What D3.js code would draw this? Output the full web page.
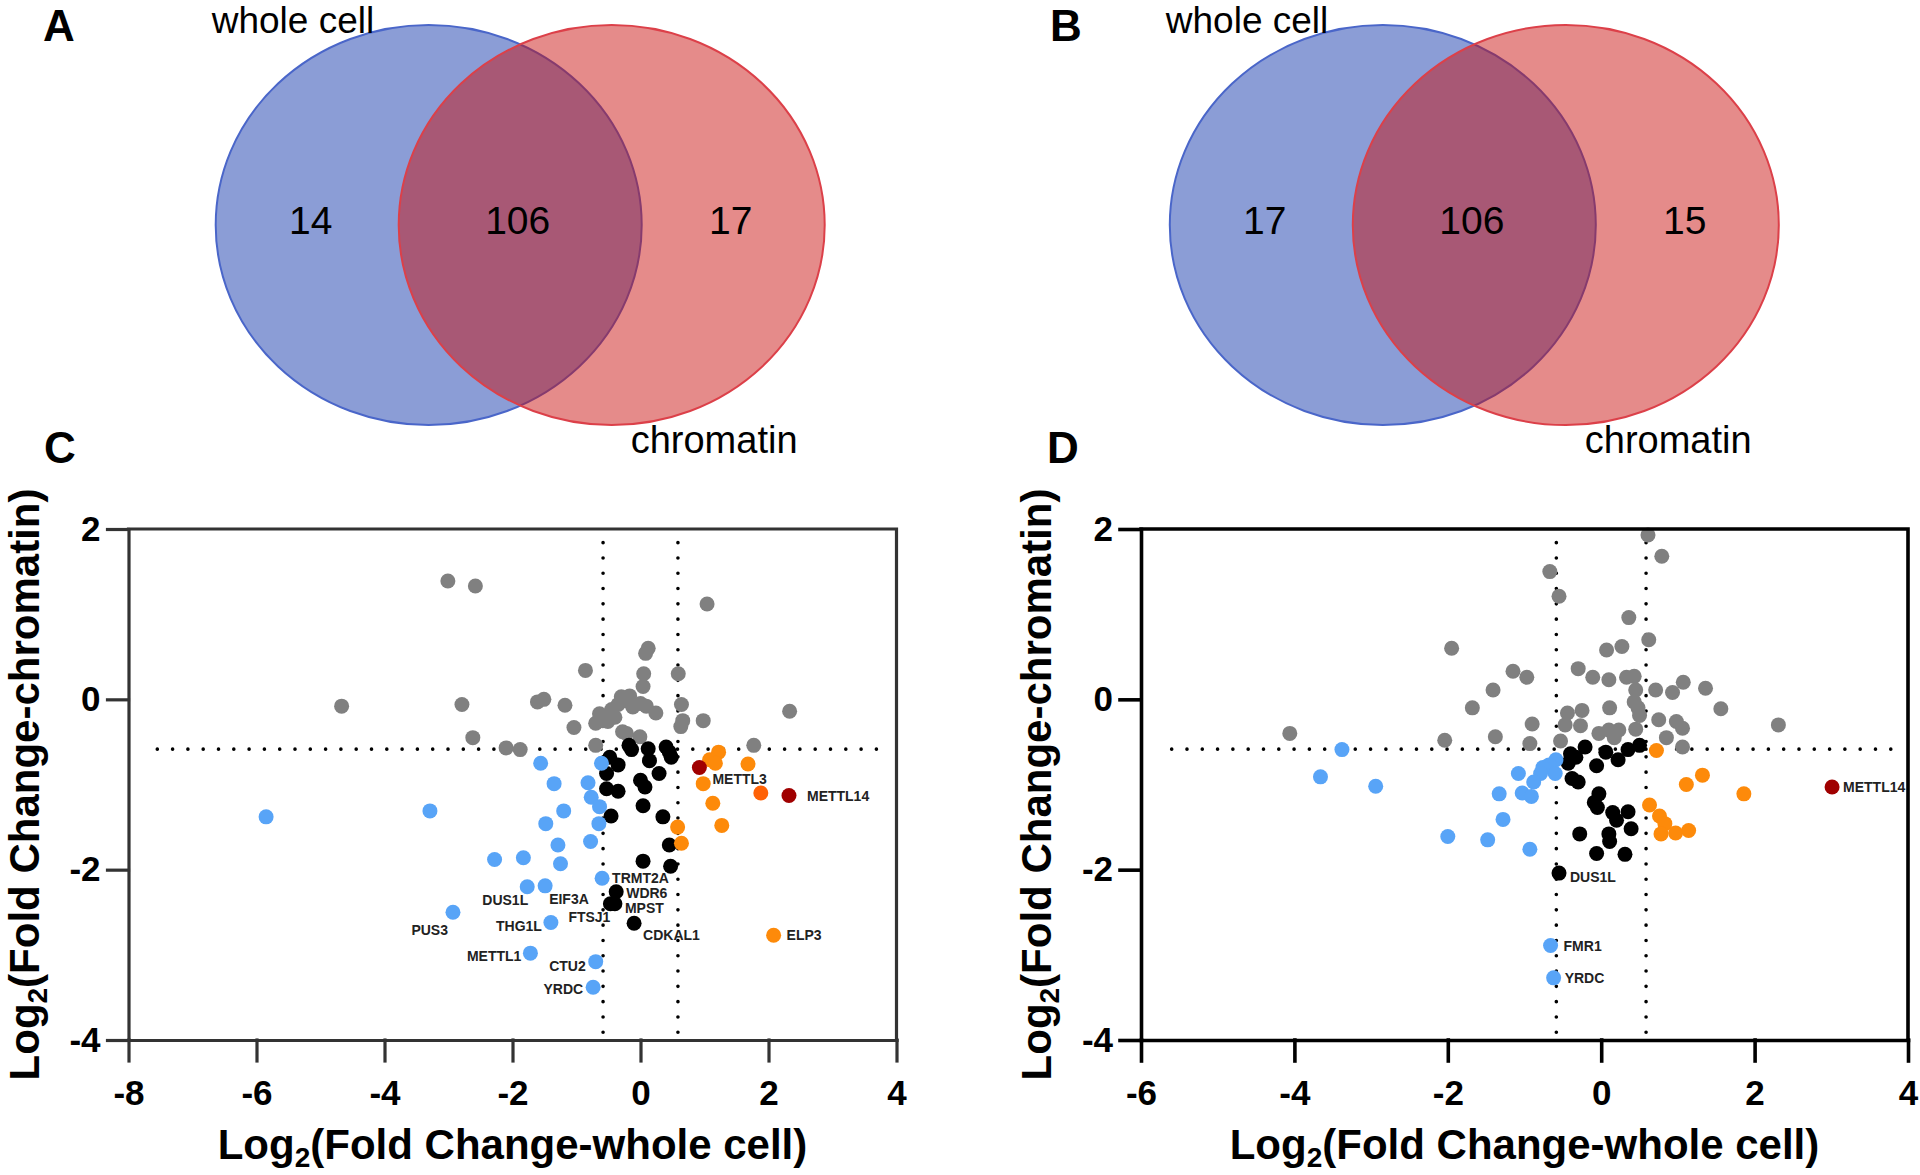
<!DOCTYPE html>
<html>
<head>
<meta charset="utf-8">
<script src="https://cdn.jsdelivr.net/npm/d3@7"></script>
<style>
  body { margin: 0; background: #fff; }
  svg { display: block; }
</style>
</head>
<body>
<script>
var W = 1920, H = 1175;
var FONT = "'Liberation Sans', Arial, Helvetica, sans-serif";

// venn counts: [whole cell only, both, chromatin only]
var setNames = ["whole cell", "chromatin"];
var vennA = [14, 106, 17];
var vennB = [17, 106, 15];

// tick values
var cXTicks = [-8, -6, -4, -2, 0, 2, 4];
var dXTicks = [-6, -4, -2, 0, 2, 4];
var yTicks = [-4, -2, 0, 2];
var cut = Math.log2(1.5);

// panel C points [log2 FC whole cell, log2 FC chromatin, label]
var cGray = [[-3.01,1.39],[-2.58,1.33],[1.04,1.12],[0.12,0.60],[0.08,0.54],[-0.86,0.34],[0.05,0.30],[0.59,0.30],
  [0.04,0.15],[-4.67,-0.08],[-2.79,-0.06],[-1.61,-0.03],[-1.51,0.00],[-1.18,-0.07],[2.33,-0.14],[-0.30,0.03],
  [-0.17,0.04],[-0.35,-0.06],[-0.12,-0.09],[0.09,-0.08],[0.24,-0.16],[0.64,-0.06],[0.66,-0.25],[0.63,-0.32],
  [0.98,-0.25],[-1.04,-0.33],[-0.64,-0.17],[-0.70,-0.28],[-0.59,-0.25],[-0.51,-0.26],[-0.40,-0.21],[-2.62,-0.45],
  [-2.10,-0.57],[-1.88,-0.59],[-0.70,-0.54],[1.77,-0.54],[-0.28,-0.38],[-0.01,-0.44],[-0.22,-0.02],[0.00,-0.05],
  [-0.45,-0.12],[-0.22,-0.40]];
var cBlack = [[-0.18,-0.54],[-0.14,-0.59],[0.12,-0.58],[0.40,-0.56],[0.48,-0.68],[0.45,-0.62],[-0.48,-0.68],[-0.35,-0.77],
  [0.14,-0.72],[-0.53,-0.87],[0.00,-0.95],[0.07,-1.03],[0.29,-0.87],[-0.53,-1.05],[-0.35,-1.08],[0.04,-1.25],
  [-0.46,-1.37],[0.35,-1.38],[0.45,-1.71],[0.04,-1.90],[0.47,-1.96],
  [-0.38,-2.26,"WDR6"],[-0.47,-2.40,"FTSJ1"],[-0.40,-2.40,"MPST"],[-0.10,-2.63,"CDKAL1"]];
var cBlue = [[-1.56,-0.75],[-0.61,-0.75],[-1.35,-0.99],[-0.82,-0.98],[-0.77,-1.15],[-0.64,-1.26],[-3.29,-1.31],
  [-1.20,-1.31],[-0.65,-1.46],[-1.48,-1.46],[-0.78,-1.67],[-1.29,-1.71],[-2.28,-1.88],[-1.83,-1.86],[-1.25,-1.93],
  [-5.85,-1.38],[-0.60,-2.10,"TRMT2A"],[-1.77,-2.20,"DUS1L"],[-1.49,-2.19,"EIF3A"],[-2.93,-2.50,"PUS3"],
  [-1.40,-2.62,"THG1L"],[-1.72,-2.98,"METTL1"],[-0.70,-3.08,"CTU2"],[-0.74,-3.38,"YRDC"]];
var cOrange = [[1.22,-0.62],[1.08,-0.71],[1.17,-0.75],[1.68,-0.76],[0.98,-0.99],[1.13,-1.22],[1.27,-1.48],
  [0.58,-1.50],[0.64,-1.69],[2.08,-2.77,"ELP3"]];
var cOrangeRed = [[1.88,-1.10]];
var cDarkRed = [[0.92,-0.80,"METTL3"],[2.32,-1.13,"METTL14"]];

// panel D points
var dGray = [[0.61,1.93],[0.79,1.68],[-0.67,1.50],[-0.55,1.21],[0.36,0.96],[0.62,0.70],[-1.95,0.60],[0.07,0.58],
  [0.27,0.62],[-1.15,0.33],[-0.97,0.26],[-0.30,0.36],[-0.11,0.26],[0.10,0.23],[0.33,0.26],[0.43,0.27],[-1.41,0.11],
  [0.45,0.11],[0.71,0.11],[0.93,0.08],[1.07,0.20],[1.36,0.13],[-1.68,-0.10],[1.56,-0.11],[0.43,-0.03],[0.48,-0.10],
  [0.11,-0.10],[0.50,-0.19],[-0.44,-0.16],[-0.25,-0.13],[-0.27,-0.31],[-0.90,-0.29],[0.75,-0.24],[0.98,-0.26],
  [1.06,-0.34],[2.31,-0.30],[-2.04,-0.48],[-1.38,-0.44],[-0.93,-0.52],[-0.53,-0.49],[-0.03,-0.40],[0.10,-0.36],
  [0.23,-0.36],[0.85,-0.45],[1.06,-0.56],[-4.06,-0.40],[-0.47,-0.30],[0.45,-0.35],[0.17,-0.45]];
var dBlue = [[-3.38,-0.59],[-3.66,-0.91],[-2.94,-1.02],[-0.59,-0.71],[-0.68,-0.77],[-0.76,-0.80],[-0.60,-0.87],
  [-1.08,-0.87],[-0.79,-0.87],[-0.88,-0.97],[-1.03,-1.10],[-0.91,-1.14],[-1.33,-1.11],[-1.28,-1.41],[-2.00,-1.61],
  [-1.48,-1.65],[-0.93,-1.76],[-0.66,-2.89,"FMR1"],[-0.62,-3.27,"YRDC"]];
var dBlack = [[-0.40,-0.64],[-0.21,-0.56],[-0.43,-0.75],[-0.33,-0.68],[-0.06,-0.78],[0.06,-0.62],[0.22,-0.71],
  [0.35,-0.59],[0.50,-0.54],[-0.38,-0.93],[-0.30,-0.97],[-0.03,-1.11],[-0.09,-1.21],[-0.05,-1.27],[0.15,-1.33],
  [0.35,-1.32],[0.20,-1.42],[0.39,-1.52],[-0.28,-1.58],[0.10,-1.58],[0.11,-1.67],[-0.06,-1.81],[0.31,-1.82],
  [-0.55,-2.04,"DUS1L"]];
var dOrange = [[0.72,-0.60],[1.32,-0.89],[1.11,-1.00],[1.86,-1.11],[0.63,-1.24],[0.76,-1.37],[0.83,-1.46],
  [0.78,-1.58],[0.97,-1.57],[1.14,-1.54]];
var dDarkRed = [[3.01,-1.03,"METTL14"]];

var colors = {gray: "#808080", black: "#000000", blue: "#58a4f7", orange: "#fd8a0a", orangeRed: "#ff6206", darkRed: "#a00000"};

// label offsets [dx, dy, anchor]
var cLabelPos = {
  "METTL3": [13, 17, "start"], "METTL14": [18, 5, "start"], "ELP3": [13, 5, "start"],
  "CDKAL1": [9, 17, "start"], "MPST": [10, 9, "start"], "WDR6": [10, 6, "start"], "TRMT2A": [10, 5, "start"],
  "FTSJ1": [0, 18, "end"], "EIF3A": [4, 18, "start"], "DUS1L": [1, 18, "end"], "PUS3": [-5, 23, "end"],
  "THG1L": [-9, 9, "end"], "METTL1": [-9, 8, "end"], "CTU2": [-10, 9, "end"], "YRDC": [-10, 7, "end"]
};
var dLabelPos = {
  "DUS1L": [11, 9, "start"], "FMR1": [13, 6, "start"], "YRDC": [11, 5, "start"], "METTL14": [11, 5, "start"]
};

var svg = d3.select("body").append("svg")
  .attr("width", W)
  .attr("height", H)
  .style("font-family", FONT);

svg.append("rect").attr("width", W).attr("height", H).attr("fill", "#fff");

// panel letters
[["A", 43, 41], ["B", 1050, 41], ["C", 44, 463], ["D", 1047, 463]].forEach(function(p) {
  svg.append("text")
    .attr("x", p[1]).attr("y", p[2])
    .attr("font-size", 44).attr("font-weight", "bold")
    .text(p[0]);
});

function drawVenn(counts, blueCx) {
  var cy = 225, rx = 213, ry = 200, gap = 183;
  var g = svg.append("g");
  g.append("ellipse")
    .attr("cx", blueCx).attr("cy", cy).attr("rx", rx).attr("ry", ry)
    .attr("fill", "#3e5cbb").attr("fill-opacity", 0.6)
    .attr("stroke", "#4a66c9").attr("stroke-width", 2);
  g.append("ellipse")
    .attr("cx", blueCx + gap).attr("cy", cy).attr("rx", rx).attr("ry", ry)
    .attr("fill", "#c80d0b").attr("fill-opacity", 0.48)
    .attr("stroke", "#dc4049").attr("stroke-width", 2);

  var nx = [blueCx - 118, blueCx + 89, blueCx + 302];
  g.selectAll("text.count")
    .data(counts)
    .enter()
    .append("text")
    .attr("class", "count")
    .attr("x", function(d, i) { return nx[i]; })
    .attr("y", 234)
    .attr("text-anchor", "middle")
    .attr("font-size", 39)
    .text(function(d) { return d; });

  g.append("text").attr("x", blueCx - 217).attr("y", 33).attr("font-size", 37).text(setNames[0]);
  g.append("text").attr("x", blueCx + 202).attr("y", 453).attr("font-size", 38).text(setNames[1]);
}

drawVenn(vennA, 428.7);
drawVenn(vennB, 1382.8);

function drawScatter(opt) {
  var x = d3.scaleLinear().domain(opt.xDomain).range(opt.xRange);
  var y = d3.scaleLinear().domain([-4, 2]).range([1040, 529]);
  var g = svg.append("g");
  var tickLen = 21;
  var fmt = function(d) { return String(d); };

  // dotted threshold lines
  var dots = g.append("g")
    .attr("stroke", "#000")
    .attr("stroke-width", 3.6)
    .attr("stroke-linecap", "round")
    .attr("stroke-dasharray", "0 15.3");
  dots.append("line")
    .attr("x1", x(opt.hFrom)).attr("x2", x(3.85))
    .attr("y1", y(-cut)).attr("y2", y(-cut));
  [-cut, cut].forEach(function(v) {
    dots.append("line")
      .attr("x1", x(v)).attr("x2", x(v))
      .attr("y1", y(1.84)).attr("y2", y(-4));
  });

  // points
  opt.groups.forEach(function(grp) {
    g.append("g").selectAll("circle")
      .data(grp.data)
      .enter()
      .append("circle")
      .attr("cx", function(d) { return x(d[0]); })
      .attr("cy", function(d) { return y(d[1]); })
      .attr("r", 7.5)
      .attr("fill", grp.color);
  });

  // point labels
  var labeled = [];
  opt.groups.forEach(function(grp) {
    grp.data.forEach(function(d) { if (d[2]) labeled.push(d); });
  });
  g.append("g").selectAll("text")
    .data(labeled)
    .enter()
    .append("text")
    .attr("x", function(d) { return x(d[0]) + opt.labelPos[d[2]][0]; })
    .attr("y", function(d) { return y(d[1]) + opt.labelPos[d[2]][1]; })
    .attr("text-anchor", function(d) { return opt.labelPos[d[2]][2]; })
    .attr("font-size", 14)
    .attr("font-weight", "bold")
    .attr("fill", "#222")
    .text(function(d) { return d[2]; });

  // frame (top and right)
  g.append("path")
    .attr("d", "M" + opt.xRange[0] + "," + y(2) + "H" + opt.xRange[1] + "V" + y(-4))
    .attr("fill", "none")
    .attr("stroke", opt.axisColor)
    .attr("stroke-width", opt.axisWidth)
    .attr("stroke-linecap", "square");

  var xAxis = g.append("g")
    .attr("transform", "translate(0," + y(-4) + ")")
    .call(d3.axisBottom(x).tickValues(opt.xTicks).tickFormat(fmt)
      .tickSize(tickLen).tickSizeOuter(0).tickPadding(19));
  var yAxis = g.append("g")
    .attr("transform", "translate(" + opt.xRange[0] + ",0)")
    .call(d3.axisLeft(y).tickValues(yTicks).tickFormat(fmt)
      .tickSize(tickLen).tickSizeOuter(0).tickPadding(7));

  [xAxis, yAxis].forEach(function(ax) {
    ax.selectAll("path, line")
      .attr("stroke", opt.axisColor)
      .attr("stroke-width", opt.axisWidth)
      .attr("stroke-linecap", "square");
    ax.selectAll("text")
      .attr("fill", "#000")
      .attr("font-family", FONT)
      .attr("font-size", 35)
      .attr("font-weight", "bold");
  });

  // axis titles
  var cx = (opt.xRange[0] + opt.xRange[1]) / 2;
  var xt = g.append("text")
    .attr("x", cx).attr("y", 1159)
    .attr("text-anchor", "middle")
    .attr("font-size", 42).attr("font-weight", "bold");
  xt.append("tspan").text("Log");
  xt.append("tspan").attr("font-size", 28).attr("dy", 8).text("2");
  xt.append("tspan").attr("dy", -8).text("(Fold Change-whole cell)");

  var yt = g.append("text")
    .attr("transform", "translate(" + (opt.xRange[0] - 90) + "," + ((y(2) + y(-4)) / 2) + ") rotate(-90)")
    .attr("text-anchor", "middle")
    .attr("font-size", 42).attr("font-weight", "bold");
  yt.append("tspan").text("Log");
  yt.append("tspan").attr("font-size", 28).attr("dy", 8).text("2");
  yt.append("tspan").attr("dy", -8).text("(Fold Change-chromatin)");
}

drawScatter({
  xDomain: [-8, 4], xRange: [128.5, 896.5], xTicks: cXTicks, hFrom: -7.55,
  axisColor: "#333", axisWidth: 3.2, labelPos: cLabelPos,
  groups: [
    {data: cGray, color: colors.gray},
    {data: cBlack, color: colors.black},
    {data: cBlue, color: colors.blue},
    {data: cOrange, color: colors.orange},
    {data: cOrangeRed, color: colors.orangeRed},
    {data: cDarkRed, color: colors.darkRed}
  ]
});

drawScatter({
  xDomain: [-6, 4], xRange: [1141, 1908], xTicks: dXTicks, hFrom: -5.6,
  axisColor: "#000", axisWidth: 3.6, labelPos: dLabelPos,
  groups: [
    {data: dGray, color: colors.gray},
    {data: dBlack, color: colors.black},
    {data: dBlue, color: colors.blue},
    {data: dOrange, color: colors.orange},
    {data: dDarkRed, color: colors.darkRed}
  ]
});
</script>
</body>
</html>
